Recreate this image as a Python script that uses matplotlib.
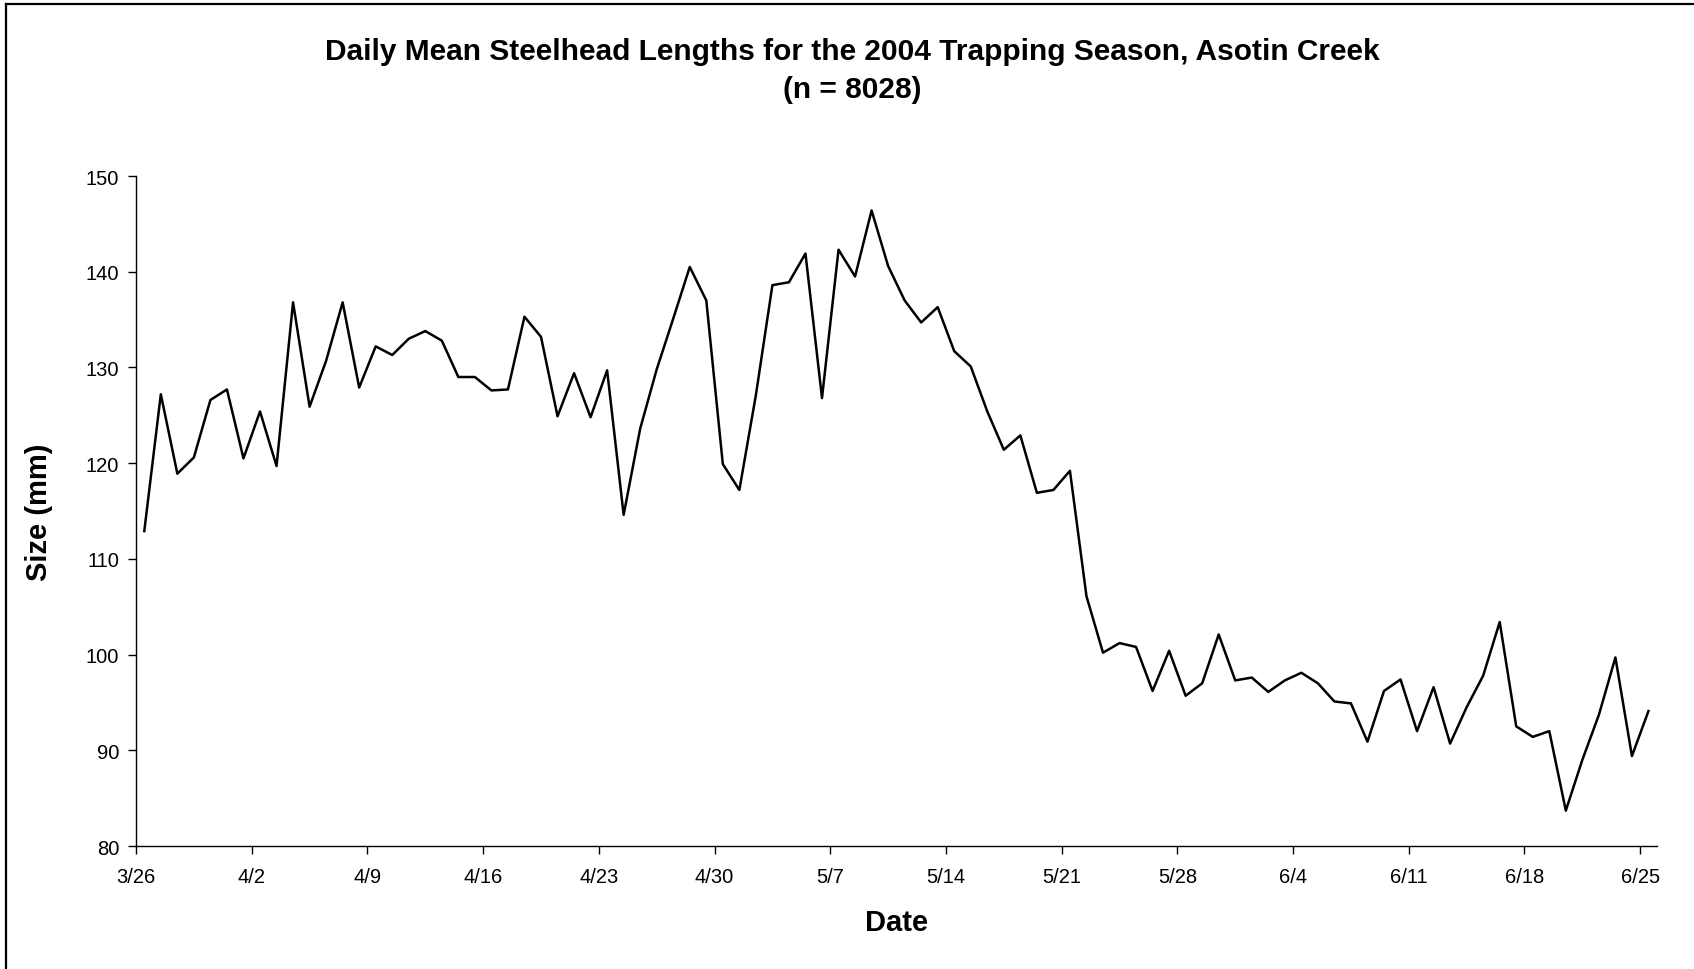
import matplotlib
matplotlib.use("Agg")
from matplotlib import pyplot as plt
from matplotlib.lines import Line2D
import matplotlib.dates as mdates
import pandas as pd

plt.rcParams["font.family"] = ["Liberation Sans", "DejaVu Sans"]

# daily mean fork length (mm), one value per trapping day from 3/26 to 6/25
lengths = [
    112.9, 127.2, 118.9, 120.6, 126.6, 127.7, 120.5, 125.4, 119.7, 136.8,
    125.9, 130.7, 136.8, 127.9, 132.2, 131.3, 133.0, 133.8, 132.8, 129.0,
    129.0, 127.6, 127.7, 135.3, 133.2, 124.9, 129.4, 124.8, 129.7, 114.6,
    123.6, 129.8, 135.1, 140.5, 137.0, 119.9, 117.2, 127.1, 138.6, 138.9,
    141.9, 126.8, 142.3, 139.5, 146.4, 140.6, 137.0, 134.7, 136.3, 131.7,
    130.1, 125.4, 121.4, 122.9, 116.9, 117.2, 119.2, 106.1, 100.2, 101.2,
    100.8, 96.2, 100.4, 95.7, 97.0, 102.1, 97.3, 97.6, 96.1, 97.3,
    98.1, 97.0, 95.1, 94.9, 90.9, 96.2, 97.4, 92.0, 96.6, 90.7,
    94.5, 97.8, 103.4, 92.5, 91.4, 92.0, 83.7, 89.0, 93.7, 99.7,
    89.4, 94.1,
]
dates = pd.date_range("2004-03-26", periods=len(lengths), freq="D")
tick_dates = pd.date_range("2004-03-26", "2004-06-25", freq="7D")

fig = plt.figure(figsize=(16.94, 9.70), dpi=100)
ax = fig.add_axes([0.0803, 0.1268, 0.8977, 0.6907])

# values sit in the middle of each day slot
ax.plot(dates + pd.Timedelta(hours=12), lengths, color="black", lw=1.8)

ax.set_xlim(pd.Timestamp("2004-03-26"), pd.Timestamp("2004-06-26"))
ax.set_ylim(80, 150)
ax.set_yticks(range(80, 151, 10))
ax.set_xticks(tick_dates)
ax.xaxis.set_major_formatter(
    matplotlib.ticker.FuncFormatter(lambda v, p: "{0.month}/{0.day}".format(mdates.num2date(v))))

for side in ("top", "right"):
    ax.spines[side].set_visible(False)
for side in ("left", "bottom"):
    ax.spines[side].set_linewidth(1.0)
ax.tick_params(axis="both", direction="out", length=6, width=1.0, labelsize=14.5)
ax.tick_params(axis="x", pad=9)
ax.tick_params(axis="y", pad=6)

ax.set_xlabel("Date", fontsize=21, fontweight="bold", labelpad=16)
ax.set_ylabel("Size (mm)", fontsize=21, fontweight="bold", labelpad=24)
fig.text(0.503, 0.946, "Daily Mean Steelhead Lengths for the 2004 Trapping Season, Asotin Creek",
         ha="center", va="center", fontsize=21.5, fontweight="bold")
fig.text(0.503, 0.907, "(n = 8028)", ha="center", va="center", fontsize=21.5, fontweight="bold")

# chart area frame along the top and left edges
fig.add_artist(Line2D([0.0035, 1.0], [0.9945, 0.9945], transform=fig.transFigure, color="black", lw=1.6))
fig.add_artist(Line2D([0.0035, 0.0035], [0.0, 0.9945], transform=fig.transFigure, color="black", lw=1.6))

fig.savefig("out.png", dpi=100)
